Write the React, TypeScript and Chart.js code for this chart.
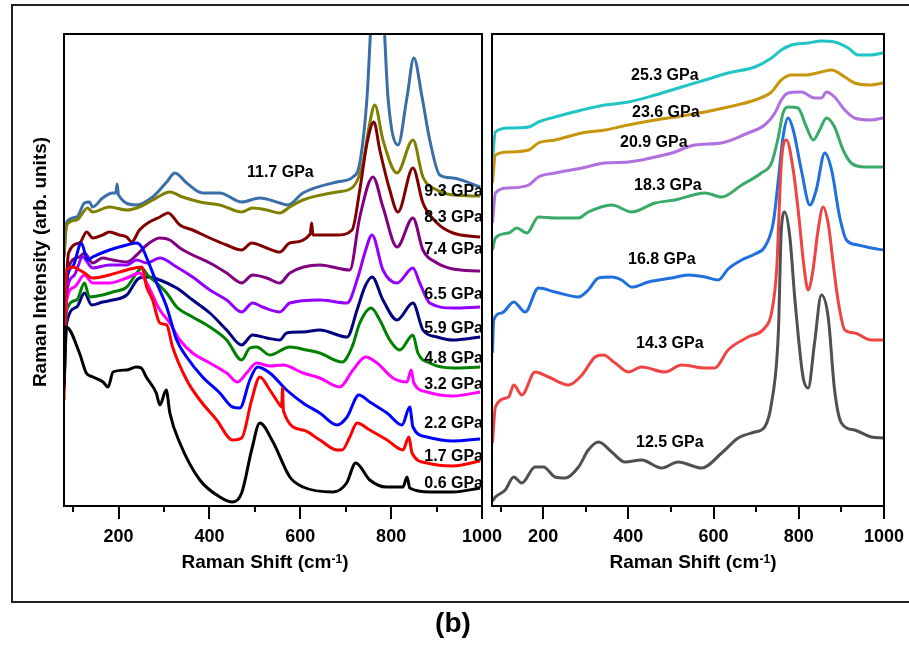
import React, { useEffect, useRef } from "react";
import { Chart, registerables } from "chart.js";

Chart.register(...registerables);

const W = 909;
const H = 651;
const CW = 1000; // canvas width (wider than the page so edge labels never squeeze the plot)
const FONT = "'Liberation Sans', Arial, Helvetica, sans-serif";

// ---- axes ----
const X_MIN = 80;
const X_MAX = 1000;
const Y_MIN = 0;
const Y_MAX = 472;
const X_TICKS = [100, 200, 300, 400, 500, 600, 700, 800, 900, 1000];
const X_LABELED = [200, 400, 600, 800, 1000];
const X_TITLE_MAIN = "Raman Shift (cm";
const X_TITLE_SUP = "-1";
const X_TITLE_END = ")";
const Y_TITLE = "Raman Intensity (arb. units)";
const FIG_LABEL = "(b)";

// ---- left panel (low pressure) : [Raman shift, intensity] ----
const P0_6: number[][] = [[80,120],[85,179],[114,153],[129,133],[144,129],[166,124],[177,119],[188,134],[217,136],[239,139],[250,138],[261,129],[283,113],[291,101],[305,116],[313,93],[335,63],[379,26],[423,9],[451,4],[471,13],[493,56],[511,83],[540,64],[577,29],[606,19],[672,14],[702,23],[722,43],[753,26],[790,19],[826,19],[835,29],[841,18],[886,14],[936,14],[996,18]];
const P1_7: number[][] = [[80,106],[86,236],[99,239],[114,236],[125,233],[143,228],[180,231],[218,236],[251,239],[262,219],[275,206],[291,183],[306,181],[319,159],[350,126],[379,106],[416,86],[451,66],[471,68],[493,106],[511,129],[533,116],[555,101],[559,99],[561,118],[563,95],[606,76],[643,66],[681,56],[692,56],[709,69],[725,83],[753,76],[791,66],[826,56],[839,69],[846,53],[879,43],[936,40],[996,45]];
const P2_2: number[][] = [[80,150],[86,225],[100,240],[118,263],[132,246],[143,249],[180,256],[218,261],[240,263],[251,259],[264,246],[284,223],[306,199],[328,166],[350,149],[385,129],[423,113],[451,99],[467,98],[489,126],[506,139],[533,133],[570,116],[606,103],[643,93],[681,81],[703,89],[729,111],[753,104],[791,93],[824,81],[841,99],[848,79],[879,69],[936,65],[996,67]];
const P3_2: number[][] = [[80,140],[86,206],[103,219],[125,231],[143,223],[180,223],[218,228],[246,233],[262,223],[291,196],[313,183],[335,166],[363,153],[401,143],[438,133],[462,124],[482,133],[504,143],[533,140],[562,141],[606,133],[643,128],[687,119],[716,136],[744,149],[769,143],[804,128],[835,124],[844,136],[850,123],[879,114],[936,110],[996,114]];
const P4_8: number[][] = [[80,130],[86,196],[108,206],[125,223],[136,209],[165,211],[187,214],[218,219],[240,233],[251,238],[264,231],[284,223],[306,213],[328,199],[363,189],[401,179],[438,166],[471,146],[489,158],[504,159],[533,151],[577,159],[614,156],[643,153],[692,144],[714,159],[731,183],[756,198],[775,186],[797,166],[819,156],[848,171],[859,153],[885,143],[936,138],[996,139]];
const P5_9: number[][] = [[80,116],[86,183],[108,199],[125,213],[141,201],[165,204],[187,206],[218,211],[246,228],[268,229],[291,226],[328,218],[363,206],[401,193],[438,176],[471,161],[495,171],[526,168],[555,166],[570,173],[606,174],[643,176],[703,169],[725,196],[742,219],[758,229],[782,206],[813,186],[848,203],[870,176],[901,169],[936,166],[996,169]];
const P6_5: number[][] = [[80,153],[86,213],[103,231],[121,249],[143,238],[180,241],[218,241],[240,246],[262,243],[291,248],[328,239],[363,229],[401,216],[438,206],[471,194],[495,203],[517,199],[555,194],[577,203],[643,206],[703,203],[727,229],[742,253],[758,271],[782,236],[813,223],[848,238],[863,223],[885,203],[936,198],[996,199]];
const P7_4: number[][] = [[80,170],[90,239],[114,249],[125,253],[143,243],[165,248],[187,246],[218,244],[240,251],[262,261],[291,268],[313,266],[335,258],[363,251],[401,243],[438,233],[471,223],[495,231],[526,228],[555,223],[577,233],[643,241],[709,236],[731,289],[760,329],[782,299],[813,259],[848,288],[870,256],[901,243],[936,237],[996,235]];
const P8_3: number[][] = [[80,176],[90,253],[114,263],[130,274],[143,268],[165,271],[180,274],[202,271],[218,269],[229,264],[246,276],[268,284],[291,289],[309,293],[335,281],[363,276],[401,268],[438,261],[471,256],[493,263],[526,258],[555,254],[577,263],[622,272],[625,283],[628,271],[681,271],[714,276],[731,316],[747,363],[762,384],[775,356],[797,316],[815,294],[848,338],[870,303],[901,283],[936,273],[996,269]];
const P9_3: number[][] = [[80,249],[86,281],[108,286],[132,298],[143,294],[180,299],[218,296],[246,299],[275,306],[313,314],[341,309],[379,304],[423,301],[471,294],[495,298],[526,296],[555,293],[577,299],[606,306],[681,314],[716,319],[738,343],[753,383],[764,401],[782,366],[813,333],[848,366],[870,329],[901,316],[936,311],[996,310]];
const P11_7: number[][] = [[80,250],[86,284],[108,289],[125,303],[136,304],[143,299],[165,308],[187,313],[194,313],[197,322],[200,311],[240,301],[275,309],[306,324],[324,333],[350,323],[385,313],[423,313],[471,304],[511,308],[555,303],[573,301],[606,313],[681,324],[716,329],[731,343],[747,409],[758,500],[769,530],[782,500],[793,409],[815,361],[835,409],[850,448],[868,409],[885,366],[907,331],[936,328],[996,319]];

// ---- right panel (high pressure) ----
const P12_5: number[][] = [[81,5],[88,9],[111,16],[131,29],[150,23],[181,39],[201,39],[228,29],[252,28],[283,39],[306,56],[330,64],[361,54],[392,44],[431,46],[478,38],[517,44],[572,38],[619,53],[658,68],[697,74],[720,79],[736,103],[752,173],[759,276],[767,294],[779,269],[791,206],[810,129],[822,118],[837,163],[853,211],[869,189],[884,116],[900,83],[931,76],[970,69],[998,68]];
const P14_3: number[][] = [[81,63],[88,99],[119,109],[131,121],[150,111],[181,134],[213,129],[259,121],[291,131],[322,149],[341,151],[369,143],[400,134],[431,139],[486,134],[525,141],[580,138],[603,138],[634,156],[681,169],[720,178],[736,193],[748,236],[759,343],[771,366],[787,336],[800,290],[812,240],[822,216],[833,235],[845,275],[857,299],[870,280],[880,245],[892,206],[908,176],[931,173],[970,166],[998,166]];
const P16_8: number[][] = [[81,153],[84,186],[103,193],[131,204],[158,194],[189,218],[228,214],[283,209],[306,216],[330,228],[361,229],[384,226],[408,219],[447,224],[502,228],[541,231],[580,229],[611,226],[634,237],[666,246],[697,252],[720,259],[740,283],[752,326],[763,369],[775,388],[787,376],[806,336],[826,301],[841,316],[861,353],[877,336],[896,289],[912,266],[939,261],[970,258],[998,256]];
const P18_3: number[][] = [[81,256],[88,268],[119,273],[138,278],[162,273],[189,289],[228,288],[283,288],[306,294],[361,301],[408,294],[463,303],[509,306],[580,313],[619,309],[666,321],[712,333],[736,343],[752,369],[763,393],[775,399],[798,398],[818,379],[834,366],[849,376],[865,388],[884,379],[904,356],[923,343],[955,339],[998,339]];
const P20_9: number[][] = [[81,283],[88,313],[119,318],[166,321],[189,329],[228,333],[291,338],[345,343],[400,344],[463,349],[502,353],[556,361],[619,363],[681,373],[720,381],[744,393],[759,406],[775,413],[806,414],[837,408],[853,408],[865,414],[884,409],[908,396],[931,388],[970,386],[998,388]];
const P23_6: number[][] = [[81,323],[88,351],[119,354],[166,356],[189,363],[228,366],[291,373],[345,376],[400,381],[463,386],[509,389],[580,394],[634,399],[697,406],[736,414],[759,426],[783,431],[814,431],[853,434],[877,436],[908,429],[931,423],[970,421],[998,423]];
const P25_3: number[][] = [[81,346],[88,374],[119,378],[166,379],[189,384],[228,389],[291,396],[345,401],[400,404],[463,411],[525,419],[580,426],[634,433],[697,439],[736,448],[759,456],[783,461],[822,463],[853,465],[884,464],[916,458],[939,451],[970,451],[998,453]];

const LEFT_NAMES = ["0.6 GPa", "1.7 GPa", "2.2 GPa", "3.2 GPa", "4.8 GPa", "5.9 GPa", "6.5 GPa", "7.4 GPa", "8.3 GPa", "9.3 GPa", "11.7 GPa"];
const LEFT_DATA = [P0_6, P1_7, P2_2, P3_2, P4_8, P5_9, P6_5, P7_4, P8_3, P9_3, P11_7];
const LEFT_COLORS = ["#000000", "#FF0000", "#0000FF", "#FF00FF", "#008000", "#000080", "#9400FF", "#800080", "#800000", "#808000", "#3A6EA8"];

const RIGHT_NAMES = ["12.5 GPa", "14.3 GPa", "16.8 GPa", "18.3 GPa", "20.9 GPa", "23.6 GPa", "25.3 GPa"];
const RIGHT_DATA = [P12_5, P14_3, P16_8, P18_3, P20_9, P23_6, P25_3];
const RIGHT_COLORS = ["#505050", "#EF4444", "#1F6FDF", "#3AAA6A", "#B070E0", "#C8960C", "#20C4C4"];

// ---- layout (pixels) ----
const AXIS_H = 45;
const LEFT_BOX = { left: 64, right: 482, top: 34, bottom: 506, titleX: 265 };
const RIGHT_BOX = { left: 492, right: 884, top: 34, bottom: 506, titleX: 693 };
// [x, centerY, align]
const LEFT_LABEL_POS: [number, number, CanvasTextAlign][] = [
  [483, 482, "right"], [483, 455, "right"], [483, 422, "right"], [483, 383, "right"],
  [483, 357, "right"], [483, 327, "right"], [483, 293, "right"], [483, 248, "right"],
  [483, 216, "right"], [483, 190, "right"], [247, 171, "left"],
];
const RIGHT_LABEL_POS: [number, number, CanvasTextAlign][] = [
  [636, 441, "left"], [636, 342, "left"], [628, 258, "left"], [634, 184, "left"],
  [620, 141, "left"], [632, 111, "left"], [631, 74, "left"],
];

type Box = typeof LEFT_BOX;

function makeChart(
  canvas: HTMLCanvasElement,
  names: string[],
  data: number[][][],
  colors: string[],
  box: Box,
  labelPos: [number, number, CanvasTextAlign][],
  isLeft: boolean
) {
  const panelPlugin = {
    id: "panelDecor",
    afterDraw(chart: any) {
      const { ctx, chartArea: a, scales } = chart;
      const xs = scales.x;
      ctx.save();
      // box
      ctx.strokeStyle = "#000";
      ctx.lineWidth = 2;
      ctx.strokeRect(a.left, a.top, a.right - a.left, a.bottom - a.top);
      // ticks
      for (const v of X_TICKS) {
        const px = Math.round(xs.getPixelForValue(v));
        const len = X_LABELED.includes(v) ? 13 : 6;
        ctx.beginPath();
        ctx.moveTo(px, a.bottom);
        ctx.lineTo(px, a.bottom + len);
        ctx.stroke();
      }
      // series labels
      ctx.fillStyle = "#000";
      ctx.font = `bold 16px ${FONT}`;
      ctx.textBaseline = "alphabetic";
      names.forEach((n, i) => {
        const [x, cy, al] = labelPos[i];
        ctx.textAlign = al;
        ctx.fillText(n, x, cy + 5.7);
      });
      // x title with superscript
      ctx.textAlign = "left";
      ctx.font = `bold 19px ${FONT}`;
      const w1 = ctx.measureText(X_TITLE_MAIN).width;
      const w3 = ctx.measureText(X_TITLE_END).width;
      ctx.font = `bold 12px ${FONT}`;
      const w2 = ctx.measureText(X_TITLE_SUP).width;
      let tx = box.titleX - (w1 + w2 + w3) / 2;
      ctx.font = `bold 19px ${FONT}`;
      ctx.fillText(X_TITLE_MAIN, tx, 567.5);
      tx += w1;
      ctx.font = `bold 12px ${FONT}`;
      ctx.fillText(X_TITLE_SUP, tx, 563);
      tx += w2;
      ctx.font = `bold 19px ${FONT}`;
      ctx.fillText(X_TITLE_END, tx, 567.5);
      if (isLeft) {
        // y title
        ctx.save();
        ctx.translate(41, 262);
        ctx.rotate(-Math.PI / 2);
        ctx.textAlign = "center";
        ctx.textBaseline = "middle";
        ctx.font = `bold 19px ${FONT}`;
        ctx.fillText(Y_TITLE, 0, 0);
        ctx.restore();
        // figure label
        ctx.textAlign = "center";
        ctx.textBaseline = "alphabetic";
        ctx.font = `bold 28px ${FONT}`;
        ctx.fillText(FIG_LABEL, 453, 632);
      }
      ctx.restore();
    },
  };

  return new Chart(canvas, {
    type: "line",
    data: {
      datasets: data.map((pts, i) => ({
        label: names[i],
        data: pts.map(([x, y]) => ({ x, y })),
        borderColor: colors[i],
        backgroundColor: colors[i],
        borderWidth: 3,
        pointRadius: 0,
        fill: false,
        cubicInterpolationMode: "monotone" as const,
      })),
    },
    options: {
      animation: false,
      responsive: false,
      maintainAspectRatio: false,
      events: [],
      layout: {
        padding: {
          left: box.left,
          right: CW - box.right,
          top: box.top,
          bottom: H - box.bottom - AXIS_H,
        },
      },
      plugins: { legend: { display: false }, tooltip: { enabled: false } },
      scales: {
        x: {
          type: "linear",
          min: X_MIN,
          max: X_MAX,
          afterBuildTicks: (s: any) => {
            s.ticks = X_TICKS.map((v) => ({ value: v }));
          },
          afterFit: (s: any) => {
            s.height = AXIS_H;
          },
          ticks: {
            autoSkip: false,
            maxRotation: 0,
            minRotation: 0,
            padding: 20,
            color: "#000",
            font: { family: FONT, size: 18, weight: "bold" },
            callback: (v: any) => (X_LABELED.includes(Number(v)) ? String(v) : ""),
          },
          grid: { display: false, drawTicks: false },
          border: { display: false },
        },
        y: {
          type: "linear",
          min: Y_MIN,
          max: Y_MAX,
          display: false,
          ticks: { display: false },
          grid: { display: false },
          afterFit: (s: any) => {
            s.width = 0;
          },
        },
      },
    } as any,
    plugins: [panelPlugin],
  });
}

export default function App() {
  const leftRef = useRef<HTMLCanvasElement>(null);
  const rightRef = useRef<HTMLCanvasElement>(null);

  useEffect(() => {
    const l = makeChart(leftRef.current!, LEFT_NAMES, LEFT_DATA, LEFT_COLORS, LEFT_BOX, LEFT_LABEL_POS, true);
    const r = makeChart(rightRef.current!, RIGHT_NAMES, RIGHT_DATA, RIGHT_COLORS, RIGHT_BOX, RIGHT_LABEL_POS, false);
    return () => {
      l.destroy();
      r.destroy();
    };
  }, []);

  return (
    <div
      style={{
        position: "absolute",
        left: 0,
        top: 0,
        width: W,
        height: H,
        overflow: "hidden",
        background: "#fff",
      }}
    >
      <div
        style={{
          position: "absolute",
          left: 11,
          top: 4,
          width: 1000,
          height: 595,
          border: "2px solid #222",
        }}
      />
      <canvas ref={leftRef} width={CW} height={H} style={{ position: "absolute", left: 0, top: 0 }} />
      <canvas ref={rightRef} width={CW} height={H} style={{ position: "absolute", left: 0, top: 0 }} />
    </div>
  );
}
